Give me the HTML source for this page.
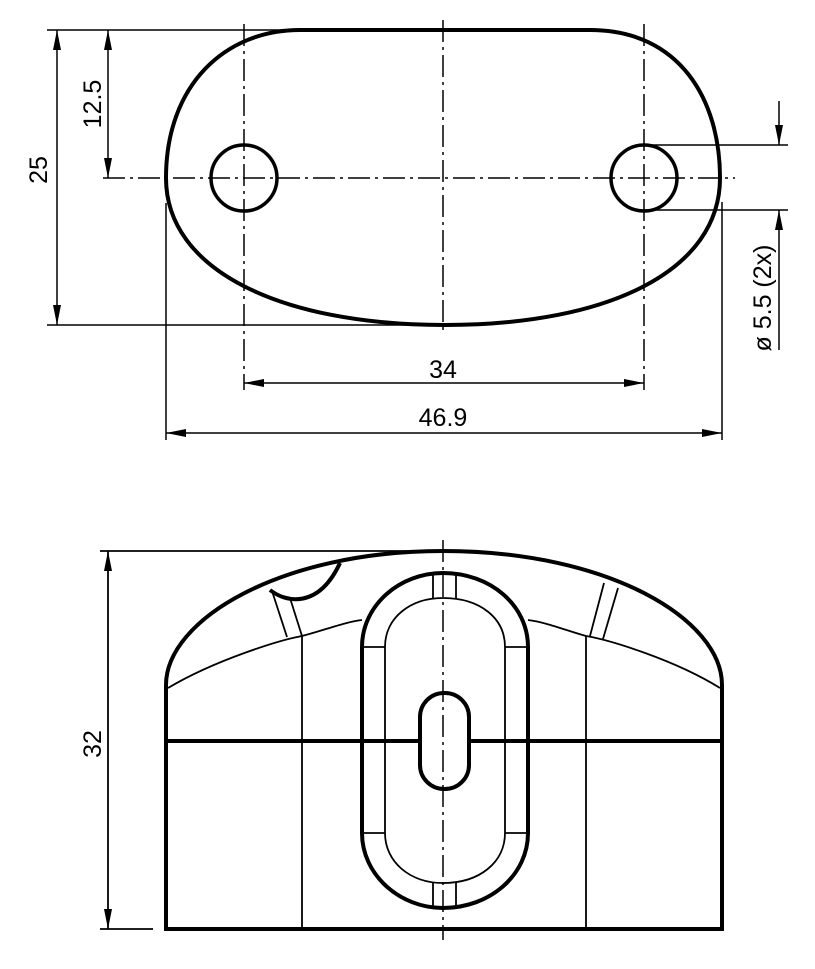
<!DOCTYPE html>
<html><head><meta charset="utf-8"><style>
html,body{margin:0;padding:0;background:#fff;}
svg{display:block;}
text{font-family:"Liberation Sans",sans-serif;font-size:25px;fill:#000;}
</style></head><body>
<svg width="815" height="969" viewBox="0 0 815 969" xmlns="http://www.w3.org/2000/svg">
<defs>
<marker id="a" viewBox="0 0 20 8" refX="20" refY="4" markerWidth="20" markerHeight="8" markerUnits="userSpaceOnUse" orient="auto-start-reverse">
<path d="M0,0 L20,4 L0,8 Z" fill="#000"/>
</marker>
</defs>
<g fill="none" stroke="#000">
<path d="M300,30 L590,30 C680,30 720,100 720,178 C720,270 610,325 445,325 C280,325 166,270 166,178 C166,85 225,30 300,30 Z" stroke-width="4"/>
<circle cx="244" cy="178" r="33" stroke-width="3.5"/>
<circle cx="644" cy="178" r="33" stroke-width="3.5"/>
<g stroke-width="1.5" stroke-dasharray="22,5,3,5">
<line x1="103" y1="178" x2="735" y2="178"/>
<line x1="244" y1="24" x2="244" y2="390"/>
<line x1="443" y1="20" x2="443" y2="330"/>
<line x1="644" y1="24" x2="644" y2="390"/>
</g>
<g stroke-width="1.5">
<line x1="47" y1="30" x2="300" y2="30"/>
<line x1="47" y1="325" x2="445" y2="325"/>
<line x1="57" y1="30" x2="57" y2="325" marker-start="url(#a)" marker-end="url(#a)"/>
<line x1="108" y1="30" x2="108" y2="178" marker-start="url(#a)" marker-end="url(#a)"/>
<line x1="244" y1="383" x2="644" y2="383" marker-start="url(#a)" marker-end="url(#a)"/>
<line x1="166" y1="203" x2="166" y2="440"/>
<line x1="722" y1="202" x2="722" y2="440"/>
<line x1="166" y1="433" x2="722" y2="433" marker-start="url(#a)" marker-end="url(#a)"/>
<line x1="644" y1="145" x2="788" y2="145"/>
<line x1="644" y1="210" x2="788" y2="210"/>
<line x1="779" y1="101" x2="779" y2="145" marker-end="url(#a)"/>
<line x1="779" y1="350" x2="779" y2="210" marker-end="url(#a)"/>
</g>
<g stroke-width="4">
<path d="M166,929 L166,685 C166,620 280,551 443,551 C610,551 722,620 722,685 L722,929 Z"/>
<line x1="166" y1="741" x2="722" y2="741"/>
<path d="M362,647 C362,605 400,573 443,573 C490,573 528,605 528,647 L528,833 C528,875 490,908 443,908 C400,908 362,875 362,833 Z"/>
<rect x="420" y="693" width="49" height="96" rx="24" fill="#fff"/>
<path d="M270,590 C285,602 318,610 340,563"/>
</g>
<g stroke-width="1.8">
<path d="M385,647 C385,618 410,598 443,598 C480,598 505,618 505,647 L505,833 C505,862 480,883 443,883 C410,883 385,862 385,833 Z"/>
<line x1="362" y1="647" x2="385" y2="647"/><line x1="505" y1="647" x2="528" y2="647"/>
<line x1="362" y1="833" x2="385" y2="833"/><line x1="505" y1="833" x2="528" y2="833"/>
<line x1="433" y1="573" x2="433" y2="598"/><line x1="456" y1="573" x2="456" y2="598"/>
<line x1="433" y1="883" x2="433" y2="908"/><line x1="456" y1="883" x2="456" y2="908"/>
<line x1="302" y1="636" x2="302" y2="929"/>
<line x1="586" y1="636" x2="586" y2="929"/>
<path d="M168,688 C215,660 280,640 302,636 C325,630 345,622 362,620"/>
<path d="M528,620 C545,622 565,630 586,636 C610,640 675,660 720,688"/>
<line x1="272" y1="591" x2="287" y2="637"/>
<line x1="290" y1="598" x2="302" y2="636"/>
<line x1="604" y1="583" x2="590" y2="636"/>
<line x1="618" y1="588" x2="603" y2="639"/>
<line x1="100" y1="551" x2="443" y2="551"/>
<line x1="100" y1="929" x2="153" y2="929"/>
<line x1="108" y1="551" x2="108" y2="929" marker-start="url(#a)" marker-end="url(#a)"/>
</g>
<line x1="443" y1="540" x2="443" y2="940" stroke-width="1.5" stroke-dasharray="22,5,3,5"/>
</g>
<text x="443" y="378" text-anchor="middle">34</text>
<text x="443" y="426" text-anchor="middle">46.9</text>
<text transform="translate(47,170) rotate(-90)" text-anchor="middle">25</text>
<text transform="translate(101,104) rotate(-90)" text-anchor="middle">12.5</text>
<text transform="translate(101,744) rotate(-90)" text-anchor="middle">32</text>
<text transform="translate(771,298) rotate(-90)" text-anchor="middle">ø 5.5 (2x)</text>
</svg>
</body></html>
